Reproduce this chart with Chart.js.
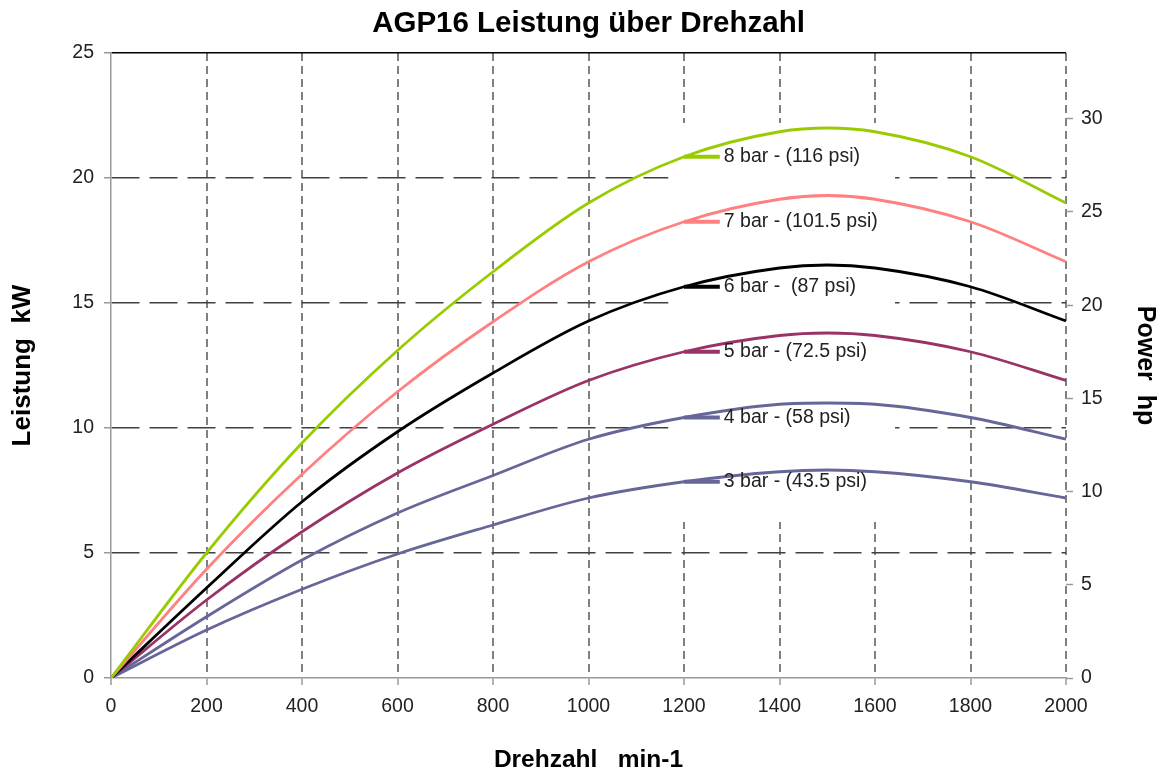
<!DOCTYPE html>
<html>
<head>
<meta charset="utf-8">
<script src="https://cdn.jsdelivr.net/npm/chart.js@4"></script>
<style>
  html, body { margin: 0; padding: 0; background: #fff; }
  #wrap { width: 1158px; height: 773px; }
</style>
</head>
<body>
<div id="wrap"><canvas id="powerChart" width="1158" height="773"></canvas></div>
<script>
// ===== DATA =====
const rpm = [0, 200, 400, 600, 800, 1000, 1200, 1400, 1500, 1600, 1800, 2000];

const bar8 = [0, 5.0, 9.4, 13.1, 16.25, 19.0, 20.85, 21.85, 22.0, 21.85, 20.85, 19.0];
const bar7 = [0, 4.35, 8.15, 11.45, 14.25, 16.65, 18.25, 19.15, 19.3, 19.15, 18.25, 16.65];
const bar6 = [0, 3.6, 7.05, 9.85, 12.2, 14.28, 15.65, 16.4, 16.52, 16.4, 15.65, 14.28];
const bar5 = [0, 3.12, 5.85, 8.2, 10.15, 11.9, 13.05, 13.7, 13.8, 13.7, 13.05, 11.9];
const bar4 = [0, 2.45, 4.72, 6.6, 8.1, 9.55, 10.42, 10.95, 11.0, 10.95, 10.42, 9.55];
const bar3 = [0, 1.92, 3.55, 4.96, 6.12, 7.2, 7.85, 8.25, 8.32, 8.25, 7.85, 7.2];

const seriesNames = ['8 bar - (116 psi)', '7 bar - (101.5 psi)', '6 bar -  (87 psi)',
                     '5 bar - (72.5 psi)', '4 bar - (58 psi)', '3 bar - (43.5 psi)'];
const seriesColors = ['#99cc00', '#ff8080', '#000000', '#993366', '#666699', '#666699'];
const seriesValues = [bar8, bar7, bar6, bar5, bar4, bar3];

// label marker: short line from 1200 to 1275 rpm at the curve's value at 1200
const labelStart = 1200;
const labelEnd = 1275;
const kwToHp = 1.341;

// ===== DATASETS =====
const datasets = [];
seriesValues.forEach((vals, i) => {
  datasets.push({
    label: seriesNames[i],
    data: rpm.map((x, j) => ({ x: x, y: vals[j] })),
    borderColor: seriesColors[i],
    borderWidth: 2.8,
    pointRadius: 0,
    cubicInterpolationMode: 'monotone',
    fill: false,
  });
});
seriesValues.forEach((vals, i) => {
  const yAt = vals[rpm.indexOf(labelStart)];
  datasets.push({
    label: 'marker' + i,
    data: [{ x: labelStart, y: yAt }, { x: labelEnd, y: yAt }],
    borderColor: seriesColors[i],
    borderWidth: 4,
    pointRadius: 0,
    fill: false,
    seriesLabel: seriesNames[i],
  });
});

// ===== PLUGINS =====
// white panel behind the series labels (hides the grid there)
const labelPanel = {
  id: 'labelPanel',
  beforeDatasetsDraw(chart) {
    const { ctx, scales: { x, y } } = chart;
    const x1 = x.getPixelForValue(1167), x2 = x.getPixelForValue(1642);
    const y1 = y.getPixelForValue(22.2), y2 = y.getPixelForValue(6.24);
    ctx.save();
    ctx.fillStyle = '#ffffff';
    ctx.fillRect(x1, y1, x2 - x1, y2 - y1);
    ctx.restore();
  }
};

const seriesLabels = {
  id: 'seriesLabels',
  afterDatasetsDraw(chart) {
    const { ctx, scales: { x, y } } = chart;
    ctx.save();
    ctx.font = '19.5px "Liberation Sans", Arial, sans-serif';
    ctx.fillStyle = '#222';
    ctx.textAlign = 'left';
    ctx.textBaseline = 'middle';
    chart.data.datasets.forEach(ds => {
      if (!ds.seriesLabel) return;
      const p = ds.data[1];
      ctx.fillText(ds.seriesLabel, x.getPixelForValue(p.x) + 4, y.getPixelForValue(p.y));
    });
    ctx.restore();
  }
};

const tickFont = { family: '"Liberation Sans", Arial, sans-serif', size: 19.5 };
const titleFont = (size, lh) => ({ family: '"Liberation Sans", Arial, sans-serif', size: size, weight: 'bold', lineHeight: lh });

new Chart(document.getElementById('powerChart'), {
  type: 'line',
  data: { datasets: datasets },
  plugins: [labelPanel, seriesLabels],
  options: {
    responsive: false,
    animation: false,
    layout: { padding: 0 },
    plugins: {
      legend: { display: false },
      tooltip: { enabled: false },
      title: {
        display: true,
        fullSize: false,
        text: 'AGP16 Leistung über Drehzahl',
        color: '#000',
        font: titleFont(29.5, 1.2),
        padding: { top: 6.3, bottom: 11.3 },
      }
    },
    scales: {
      x: {
        type: 'linear',
        min: 0,
        max: 2000,
        afterFit: (s) => { s.height = 95; },
        ticks: { stepSize: 200, font: tickFont, color: '#222', padding: 10, maxRotation: 0,
                 callback: (v) => String(v) },
        grid: {
          color: (c) => c.tick && c.tick.value === 0 ? 'rgba(0,0,0,0)' : '#808080',
          lineWidth: 2,
          tickLength: 7,
          tickColor: '#999',
          tickWidth: 1.5,
          tickBorderDash: [],
        },
        border: { display: true, color: '#999', width: 1.5, dash: [8, 5] },
        title: {
          display: true,
          text: 'Drehzahl   min-1',
          color: '#000',
          font: titleFont(24.5, 1.05),
          padding: { top: 0, bottom: 0 },
        }
      },
      y: {
        position: 'left',
        min: 0,
        max: 25,
        afterFit: (s) => { s.width = 111; },
        ticks: { stepSize: 5, font: tickFont, color: '#222', padding: 10 },
        grid: {
          color: (c) => {
            const v = c.tick ? c.tick.value : null;
            if (v === 0) return 'rgba(0,0,0,0)';
            if (v === 25) return '#000';
            return '#404040';
          },
          lineWidth: 1.5,
          tickLength: 7,
          tickColor: '#999',
          tickWidth: 1.5,
          tickBorderDash: [],
        },
        border: {
          display: true, color: '#999', width: 1.5,
          dash: (c) => (c.tick && c.tick.value === 25) ? [] : [28, 10],
        },
        title: {
          display: true,
          text: 'Leistung  kW',
          color: '#000',
          font: titleFont(26, 1.2),
          padding: { top: 7.5, bottom: 0 },
        }
      },
      y2: {
        position: 'right',
        min: 0,
        max: 25 * kwToHp,
        afterFit: (s) => { s.width = 92; },
        ticks: { stepSize: 5, includeBounds: false, font: tickFont, color: '#222', padding: 8 },
        grid: {
          drawOnChartArea: false,
          tickLength: 7,
          tickColor: '#999',
          tickWidth: 1.5,
        },
        border: { display: false },
        title: {
          display: true,
          text: 'Power  hp',
          color: '#000',
          font: titleFont(25, 1.05),
          padding: { top: 0, bottom: 0 },
        }
      }
    }
  }
});
</script>
</body>
</html>
